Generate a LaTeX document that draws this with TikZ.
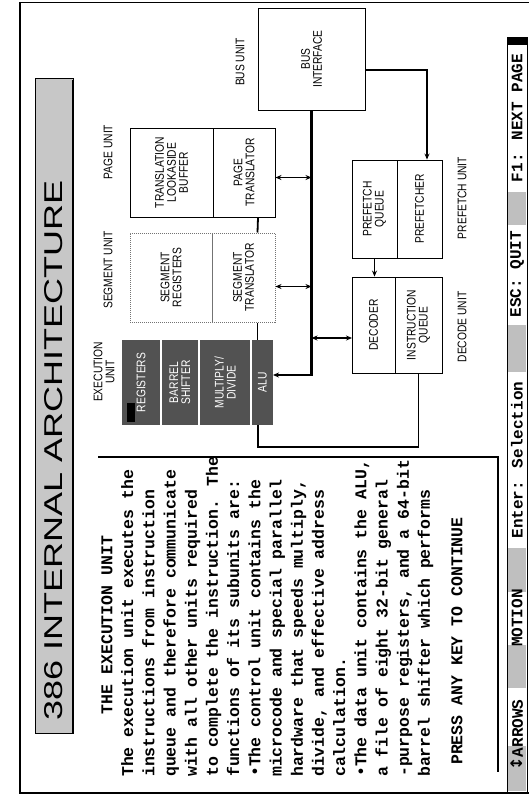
\documentclass[tikz,border=0pt]{standalone}
\usepackage{fontspec}
\setmainfont{Liberation Sans}
\newfontfamily\monofont{Liberation Mono}
\newfontfamily\symfont{DejaVu Sans}
\usetikzlibrary{arrows.meta}

\newcommand{\lblfont}{\fontsize{12.5}{12}\selectfont}
\newcommand{\scrfont}{\monofont\bfseries\fontsize{16.5}{21.2}\selectfont}
\newcommand{\barfont}{\monofont\bfseries\fontsize{16}{16}\selectfont}

\tikzset{
  unitbox/.style={draw, line width=0.9pt, inner sep=0pt},
  segbox/.style={draw=black!55, densely dotted, line width=1pt, inner sep=0pt},
  darkbox/.style={fill=black!68, inner sep=0pt},
  lbl/.style={rotate=90, align=center, font=\lblfont, xscale=0.82, inner sep=0pt},
  link/.style={line width=1.8pt},
  buslink/.style={line width=2.4pt},
  tip/.style={-{Stealth[length=6pt,width=5pt]}},
  twotip/.style={{Stealth[length=6pt,width=5pt]}-{Stealth[length=6pt,width=5pt]}},
  barshade/.style={fill=black!25},
}

\begin{document}
\begin{tikzpicture}[x=1pt,y=-1pt]
    \useasboundingbox (0,0) rectangle (530,801);
    % screen frame
    \draw[line width=1pt] (20,2) -- (529,2);
    \draw[line width=1.2pt] (20,2) -- (20,793) -- (529,793);

    % title bar
    \draw[fill=black!22, line width=0.8pt] (35,78) rectangle (73,733);
    \draw[line width=2pt] (73,80) -- (73,733);
    \node[rotate=90, anchor=west, inner sep=0pt] (title) at (54,721)
        {\resizebox{540pt}{18pt}{386 INTERNAL ARCHITECTURE}};

    % unit captions
    \node[lbl] (pgcap) at (108,152) {PAGE UNIT};
    \node[lbl] (segcap) at (108,270) {SEGMENT UNIT};
    \node[lbl] (execap) at (104,372) {EXECUTION\\UNIT};
    \node[lbl] (buscap) at (240,62) {BUS UNIT};
    \node[lbl] (pfcap) at (462,198) {PREFETCH UNIT};
    \node[lbl] (deccap) at (462,327) {DECODE UNIT};

    % page unit
    \node[unitbox, minimum width=83pt, minimum height=89pt] (tlb) at (171.5,172.5) {};
    \node[unitbox, minimum width=62pt, minimum height=89pt] (pgtr) at (244,172.5) {};
    \node[lbl] (tlbtxt) at (tlb) {TRANSLATION\\LOOKASIDE\\BUFFER};
    \node[lbl] (pgtrtxt) at (pgtr) {PAGE\\TRANSLATOR};

    % segment unit
    \node[segbox, minimum width=82pt, minimum height=89pt] (segreg) at (171,277.5) {};
    \node[segbox, minimum width=63pt, minimum height=89pt] (segtr) at (243.5,277.5) {};
    \node[lbl] (segregtxt) at (segreg) {SEGMENT\\REGISTERS};
    \node[lbl] (segtrtxt) at (segtr) {SEGMENT\\TRANSLATOR};

    % execution unit
    \node[darkbox, minimum width=38pt, minimum height=85pt] (regs) at (141,382.5) {};
    \node[darkbox, minimum width=36pt, minimum height=85pt] (barrel) at (180,382.5) {};
    \node[darkbox, minimum width=50pt, minimum height=85pt] (muldiv) at (225,382.5) {};
    \node[darkbox, minimum width=21pt, minimum height=85pt] (alu) at (262.5,382.5) {};
    \node[lbl, text=white] (regstxt) at (regs) {REGISTERS};
    \node[lbl, text=white] (barreltxt) at (barrel) {BARREL\\SHIFTER};
    \node[lbl, text=white] (muldivtxt) at (muldiv) {MULTIPLY/\\DIVIDE};
    \node[lbl, text=white] (alutxt) at (alu) {ALU};
    \fill (127,403) rectangle (135,422);

    % bus unit
    \node[unitbox, minimum width=107pt, minimum height=102pt] (busif) at (311.5,59) {};
    \node[lbl] (busiftxt) at (busif) {BUS\\INTERFACE};

    % prefetch and decode units
    \node[unitbox, minimum width=45pt, minimum height=98pt] (pfq) at (374.5,209) {};
    \node[unitbox, minimum width=45pt, minimum height=98pt] (pfr) at (419.5,209) {};
    \node[lbl] (pfqtxt) at (pfq) {PREFETCH\\QUEUE};
    \node[lbl] (pfrtxt) at (pfr) {PREFETCHER};
    \node[unitbox, minimum width=43pt, minimum height=96pt] (dec) at (373.5,325) {};
    \node[unitbox, minimum width=47pt, minimum height=96pt] (iq) at (418.5,325) {};
    \node[lbl] (dectxt) at (dec) {DECODER};
    \node[lbl] (iqtxt) at (iq) {INSTRUCTION\\QUEUE};

    % connections
    \coordinate (aluin) at (273,375);
    \coordinate (decin) at (352,338);
    \draw[buslink, tip] (busif.south) |- (aluin);
    \draw[link, twotip] ([yshift=-5pt]pgtr.east) -- ([yshift=-5pt]pgtr.east -| busif.south);
    \draw[link, twotip] ([yshift=-9pt]segtr.east) -- ([yshift=-9pt]segtr.east -| busif.south);
    \draw[link, twotip] (decin -| busif.south) -- (decin);
    \draw[link] ([xshift=14pt]pgtr.south) -- ([xshift=14pt]segtr.north);
    \draw[link] ([xshift=14pt]segtr.south) -- ([xshift=14pt]segtr.south |- alu.north);
    \draw[link] ([xshift=-4.5pt]alu.south) -- ++(0,22) -| (iq.south);
    \draw[link, tip] ([yshift=-11pt]busif.east) -| ([xshift=7.5pt]pfr.north);
    \draw[link, tip] (pfq.south) -- (pfq.south |- dec.north);

    % text panel
    \draw[line width=2.4pt] (98,457) -- (498,457) -- (498,772);
    \node[rotate=90, font=\scrfont, inner sep=0pt] (exectitle) at (107,625) {THE EXECUTION UNIT};
    \node[rotate=90, anchor=north west, align=left, inner sep=0pt, font=\scrfont] (exectext) at (121,777)
        {The execution unit executes the\\
         instructions from instruction\\
         queue and therefore communicate\\
         with all other units required\\
         to complete the instruction. The\\
         functions of its subunits are:\\
         •The control unit contains the\\
         microcode and special parallel\\
         hardware that speeds multiply,\\
         divide, and effective address\\
         calculation.\\
         •The data unit contains the ALU,\\
         a file of eight 32-bit general\\
         -purpose registers, and a 64-bit\\
         barrel shifter which performs};
    \node[rotate=90, anchor=west, font=\scrfont, inner sep=0pt] (presskey) at (457,765) {PRESS ANY KEY TO CONTINUE};

    % status bar
    \draw[line width=0.8pt] (507,37) rectangle (527,792);
    \fill (507,37) rectangle (527,45);
    \fill[barshade] (508,746) rectangle (526,791);
    \fill[barshade] (508,645) rectangle (526,688);
    \fill[barshade] (508,548) rectangle (526,592);
    \fill[barshade] (508,325) rectangle (526,372);
    \fill[barshade] (508,192) rectangle (526,225);
    \node[rotate=90, font=\barfont, inner sep=0pt] (arrowkey) at (517,735) {{\symfont↕}ARROWS};
    \node[rotate=90, font=\barfont, inner sep=0pt] (motion) at (517,618) {MOTION};
    \node[rotate=90, font=\barfont, inner sep=0pt] (enterkey) at (517,460) {Enter: Selection};
    \node[rotate=90, font=\barfont, inner sep=0pt] (esckey) at (517,274) {ESC: QUIT};
    \node[rotate=90, font=\barfont, inner sep=0pt] (fkey) at (517,118) {F1: NEXT PAGE};
\end{tikzpicture}
\end{document}
